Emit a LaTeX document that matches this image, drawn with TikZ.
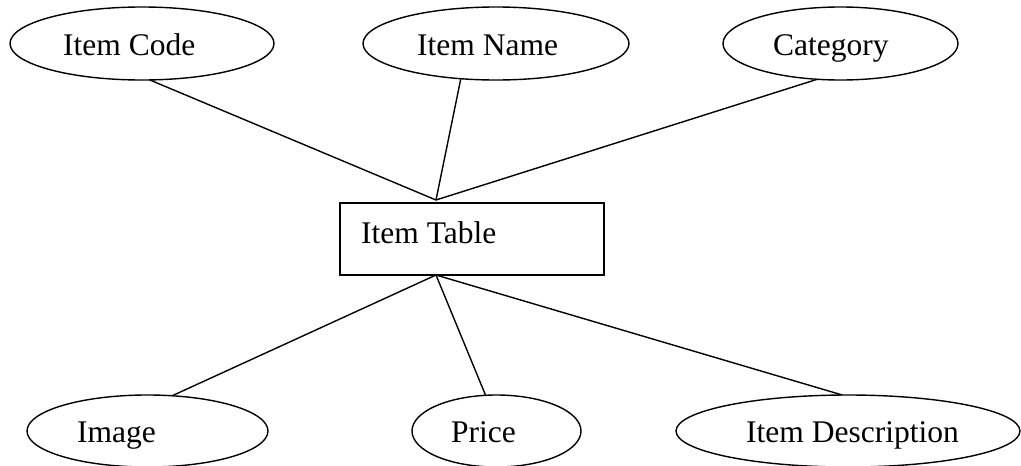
\documentclass[tikz,border=0pt]{standalone}
\usepackage{fontspec}
\setmainfont{Liberation Serif}
\usetikzlibrary{shapes.geometric}
\begin{document}
\begin{tikzpicture}[x=1pt,y=-1pt,
  attr/.style={draw, ellipse, line width=1.4pt, inner sep=0pt, outer sep=0pt},
  tbox/.style={draw, rectangle, line width=1.4pt, inner sep=0pt, outer sep=0pt},
  lbl/.style={inner sep=0pt, anchor=base west, font=\fontsize{31.5}{36}\selectfont},
  conn/.style={line width=1.4pt}]
\useasboundingbox (0,0) rectangle (1021,466);
% attribute ellipses
\node[attr, minimum width=264pt, minimum height=73pt] (ic) at (142,43.5) {};
\node[attr, minimum width=266pt, minimum height=73pt] (in) at (496,43.5) {};
\node[attr, minimum width=235pt, minimum height=73pt] (cat) at (840.5,43.5) {};
\node[attr, minimum width=241pt, minimum height=72pt] (img) at (147.5,431) {};
\node[attr, minimum width=169pt, minimum height=72pt] (pr) at (496.5,431) {};
\node[attr, minimum width=344pt, minimum height=72pt] (id) at (848,431) {};
% table box
\node[tbox, minimum width=264pt, minimum height=72pt] (tbl) at (472,239) {};
% labels
\node[lbl] (ict) at (63,55) {Item Code};
\node[lbl] (int) at (417,55) {Item Name};
\node[lbl] (catt) at (773,55) {Category};
\node[lbl] (tblt) at (361,243) {Item Table};
\node[lbl] (imgt) at (77,442) {Image};
\node[lbl] (prt) at (451,442) {Price};
\node[lbl] (idt) at (746,442) {Item Description};
% junction points
\coordinate (tj) at (436,200);
\coordinate (bj) at (436,275);
% connectors
\draw[conn] (ic.282.4) -- (tj);
\draw[conn] (in.225.2) -- (tj);
\draw[conn] (cat.237.9) -- (tj);
\draw[conn] (bj) -- (img.55.2);
\draw[conn] (bj) -- (pr.107.9);
\draw[conn] (bj) -- (id.99.5);
\end{tikzpicture}
\end{document}
